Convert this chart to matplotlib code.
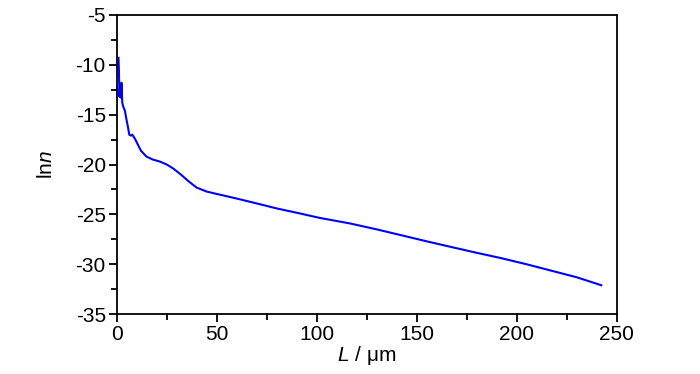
import matplotlib
matplotlib.use("Agg")
import matplotlib.pyplot as plt
from matplotlib.ticker import MultipleLocator

# ── Daten ────────────────────────────────────────────────────────────────────
L_um = [0.8, 1.0, 1.3, 1.6, 2.0, 2.3, 2.7, 3.2, 4.0, 4.8, 5.5, 6.2, 7.0, 7.7,
        9.0, 10.5, 12.0, 14.8, 18.0, 21.5, 25.0, 28.2, 32.0, 36.0, 39.8, 44.8,
        50.0, 59.8, 70.0, 80.0, 91.5, 101.5, 116.5, 130.0, 141.5, 155.0,
        168.0, 180.0, 191.5, 205.0, 216.5, 230.0, 242.3]
ln_n = [-9.3, -10.5, -13.2, -12.0, -13.3, -11.8, -13.8, -14.2, -14.6, -15.5,
        -16.2, -17.0, -17.1, -17.0, -17.4, -18.0, -18.6, -19.2, -19.5, -19.7,
        -20.0, -20.4, -21.0, -21.7, -22.3, -22.7, -22.95, -23.4, -23.9, -24.4,
        -24.9, -25.35, -25.9, -26.5, -27.05, -27.7, -28.3, -28.85, -29.35,
        -30.0, -30.6, -31.3, -32.1]

plt.rcParams['font.family'] = ['Liberation Sans', 'DejaVu Sans']
plt.rcParams['axes.unicode_minus'] = False
plt.rcParams['mathtext.fontset'] = 'custom'
plt.rcParams['mathtext.it'] = 'Liberation Sans:italic'
plt.rcParams['mathtext.rm'] = 'Liberation Sans'

fig = plt.figure(figsize=(7.0, 3.74), dpi=100)
ax = fig.add_axes([0.167, 0.160, 0.714, 0.800])

ax.plot(L_um, ln_n, color='#0000ff', lw=1.5)

ax.set_xlim(0, 250)
ax.set_ylim(-35, -5)
ax.xaxis.set_major_locator(MultipleLocator(50))
ax.xaxis.set_minor_locator(MultipleLocator(25))
ax.yaxis.set_major_locator(MultipleLocator(5))
ax.yaxis.set_minor_locator(MultipleLocator(2.5))

ax.tick_params(which='both', direction='out', width=1.3, labelsize=15,
               top=False, right=False, pad=2)
ax.tick_params(which='major', length=6)
ax.tick_params(which='minor', length=4)
for sp in ax.spines.values():
    sp.set_linewidth(1.3)

ax.set_xlabel(r'$L$ / μm', fontsize=15, labelpad=0)
ax.set_ylabel(r'ln$n$', fontsize=15, labelpad=14)

fig.savefig('out.png', dpi=100)
